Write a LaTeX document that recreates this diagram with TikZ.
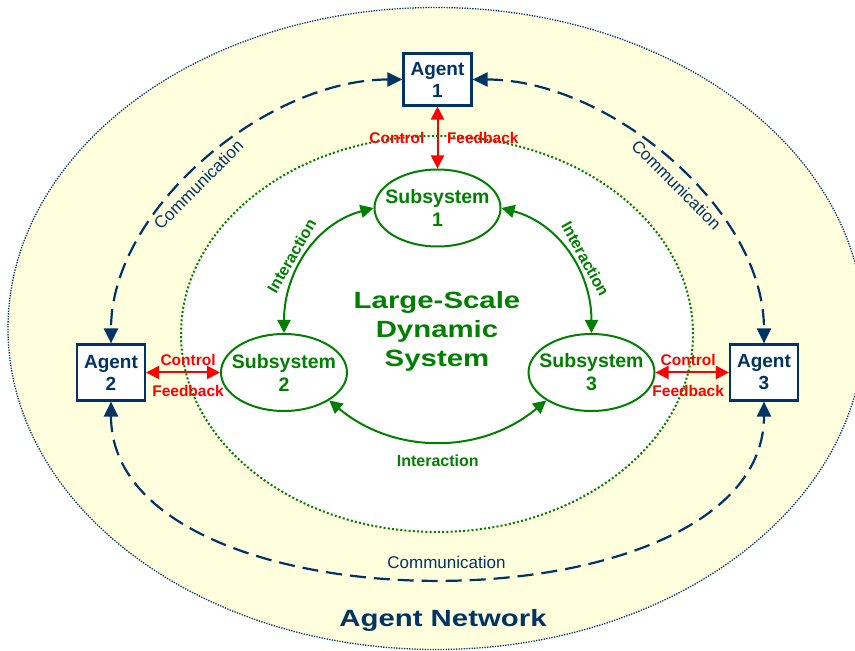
\documentclass[tikz,border=0pt]{standalone}
\usepackage{fontspec}
\setmainfont{Liberation Sans}
\newfontfamily\widefont[FakeStretch=1.25]{Liberation Sans}
\usepackage{tikz}
\usetikzlibrary{arrows.meta, shapes.geometric}
\usepackage{xcolor}
\definecolor{netNavy}{RGB}{0, 51, 102}
\definecolor{sysGreen}{RGB}{0, 128, 0}
\definecolor{ctrlRed}{RGB}{255, 0, 0}
\definecolor{netYellow}{RGB}{255, 255, 221}

\begin{document}
\begin{tikzpicture}[x=1pt, y=1pt,
  agentbox/.style={draw=netNavy, line width=2.2pt, fill=white, text=netNavy,
    font=\fontsize{19}{22}\selectfont\bfseries, align=center,
    minimum width=68pt, minimum height=56pt, inner sep=0pt},
  subsys/.style={ellipse, draw=sysGreen, line width=2pt, fill=white, text=sysGreen,
    font=\fontsize{19.5}{23}\selectfont\bfseries, align=center,
    minimum width=126pt, minimum height=77pt, inner xsep=-10pt, inner ysep=0pt},
  comm/.style={netNavy, line width=2.2pt, dash pattern=on 16pt off 8pt,
    {Triangle[length=15pt,width=14pt]}-{Triangle[length=15pt,width=14pt]}},
  commlabel/.style={text=netNavy, font=\fontsize{17}{20}\selectfont, sloped, inner sep=2pt},
  inter/.style={sysGreen, line width=2pt,
    {Triangle[length=13pt,width=13pt]}-{Triangle[length=13pt,width=13pt]}},
  interlabel/.style={text=sysGreen, font=\fontsize{16}{19}\selectfont\bfseries, inner sep=2pt},
  ctrl/.style={ctrlRed, line width=2pt,
    {Triangle[length=13pt,width=13pt]}-{Triangle[length=13pt,width=13pt]}},
  ctrllabel/.style={text=ctrlRed, font=\fontsize{15.5}{18}\selectfont\bfseries, inner sep=1pt}]
  \useasboundingbox (0,0) rectangle (855,651);

  % Agent network and the system inside it
  \draw[fill=netYellow, draw=netNavy, line width=1.3pt, dash pattern=on 1.3pt off 1.3pt]
    (436,322.5) ellipse [x radius=428pt, y radius=321pt];
  \draw[fill=white, draw=sysGreen, line width=2pt, dash pattern=on 2pt off 2.2pt]
    (437,317) ellipse [x radius=256pt, y radius=198pt];

  \node[agentbox, minimum height=52pt] (a1) at (437.5,571.5) {Agent\\1};
  \node[agentbox] (a2) at (111,278.5) {Agent\\2};
  \node[agentbox] (a3) at (764,278.5) {Agent\\3};

  \node[subsys] (s1) at (437.5,443) {Subsystem\\1};
  \node[subsys] (s2) at (284,278.5) {Subsystem\\2};
  \node[subsys] (s3) at (591.5,278.5) {Subsystem\\3};

  \node[text=sysGreen, align=center, font=\widefont\fontsize{23.5}{29}\selectfont\bfseries]
    (lsds) at (437,320) {Large-Scale\\Dynamic\\System};
  \node[text=netNavy, font=\widefont\fontsize{23.5}{28}\selectfont\bfseries]
    (netlabel) at (443,31) {Agent Network};

  % Communication between agents
  \draw[comm] (a1.west) to[out=180, in=90, looseness=0.88]
    node[commlabel, pos=0.55, below=3pt] {Communication} (a2.north);
  \draw[comm] (a1.east) to[out=0, in=90, looseness=0.88]
    node[commlabel, pos=0.55, below=3pt] {Communication} (a3.north);
  \draw[comm] (a2.south) to[out=-90, in=-90, looseness=0.92]
    node[commlabel, pos=0.5, above=6pt, xshift=9pt] {Communication} (a3.south);

  % Interaction between subsystems
  \draw[inter] (s2.north) to[out=90, in=195]
    node[interlabel, sloped, pos=0.44, above=3pt] {Interaction} (s1.west);
  \draw[inter] (s1.east) to[out=-15, in=90]
    node[interlabel, sloped, pos=0.58, above=3pt] {Interaction} (s3.north);
  \draw[inter] (s2.south east) to[out=-40, in=-140]
    node[interlabel, below=11pt] {Interaction} (s3.south west);

  % Control and feedback
  \draw[ctrl] (a1) -- (s1)
    node[ctrllabel, midway, left=11pt] {Control}
    node[ctrllabel, midway, right=7.5pt] {Feedback};
  \draw[ctrl] (a2) -- (s2)
    node[ctrllabel, midway, above=5pt, xshift=5pt] {Control}
    node[ctrllabel, midway, below=11pt, xshift=5pt] {Feedback};
  \draw[ctrl] (s3) -- (a3)
    node[ctrllabel, midway, above=5pt, xshift=-4pt] {Control}
    node[ctrllabel, midway, below=11pt, xshift=-4pt] {Feedback};
\end{tikzpicture}
\end{document}
